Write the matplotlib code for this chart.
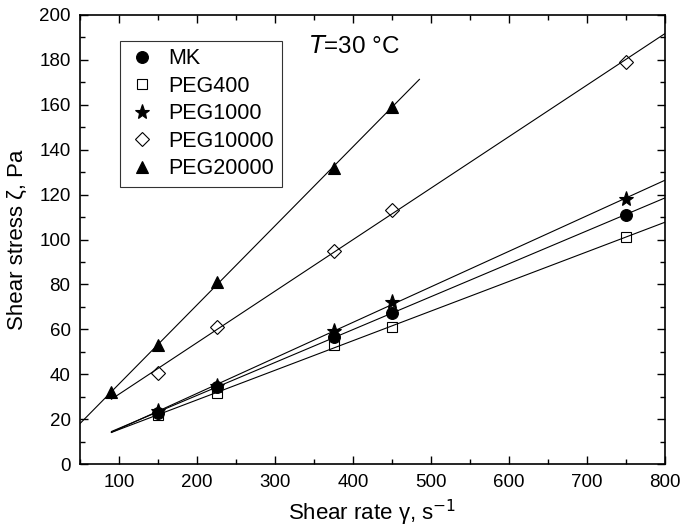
import numpy as np
import matplotlib.pyplot as plt
from matplotlib.ticker import MultipleLocator

plt.rcParams['font.family'] = ['Liberation Sans', 'DejaVu Sans']

# shear rate values (1/s) and shear stress (Pa)
rate = [150, 225, 375, 450, 750]
mk = [23, 34.5, 56.5, 67.5, 111]
peg400 = [22, 31.5, 53, 61, 101]
peg1000 = [23.5, 35, 59.5, 72, 118]
peg10000 = [40.5, 61, 95, 113, 179]
rate_20000 = [90, 150, 225, 375, 450]
peg20000 = [32, 53, 81, 132, 159]

series = [
    ('MK', rate, mk, 'o', 'k', (90, 800)),
    ('PEG400', rate, peg400, 's', 'none', (90, 800)),
    ('PEG1000', rate, peg1000, '*', 'k', (90, 800)),
    ('PEG10000', rate, peg10000, 'D', 'none', (90, 800)),
    ('PEG20000', rate_20000, peg20000, '^', 'k', (50, 485)),
]
sizes = {'o': 8.5, 's': 7.5, '*': 11, 'D': 7.5, '^': 8.5}

fig = plt.figure(figsize=(6.8, 5.27), dpi=100)
ax = fig.add_axes([0.118, 0.119, 0.860, 0.853])

for name, x, y, m, fc, (x0, x1) in series:
    k, b = np.polyfit(x, y, 1)
    xl = np.array([x0, x1])
    ax.plot(xl, k * xl + b, color='k', lw=0.8, zorder=1)
    ax.plot(x, y, ls='none', marker=m, ms=sizes[m], mfc=fc, mec='k',
            mew=0.8, label=name, zorder=2)

ax.set_xlim(50, 800)
ax.set_ylim(0, 200)
ax.xaxis.set_major_locator(MultipleLocator(100))
ax.xaxis.set_minor_locator(MultipleLocator(50))
ax.yaxis.set_major_locator(MultipleLocator(20))
ax.yaxis.set_minor_locator(MultipleLocator(10))
ax.tick_params(which='both', direction='in', top=True, right=True,
               labelsize=13.5, pad=7)
ax.tick_params(which='major', length=6, width=1)
ax.tick_params(which='minor', length=3.5, width=1)
for s in ax.spines.values():
    s.set_linewidth(1.2)

ax.set_xlabel('Shear rate γ, s$^{-1}$', fontsize=16, labelpad=5)
ax.set_ylabel('Shear stress ζ, Pa', fontsize=16, labelpad=8)
ax.text(343, 183, '$\\it{T}$=30 °C', fontsize=17.5)

leg = ax.legend(loc='upper left', bbox_to_anchor=(0.068, 0.942), borderaxespad=0,
                fontsize=15.5, frameon=True, fancybox=False, edgecolor='k',
                handletextpad=0.6, borderpad=0.35, labelspacing=0.3,
                handlelength=1.3)
leg.get_frame().set_linewidth(0.8)

fig.savefig('out.png', dpi=100)
